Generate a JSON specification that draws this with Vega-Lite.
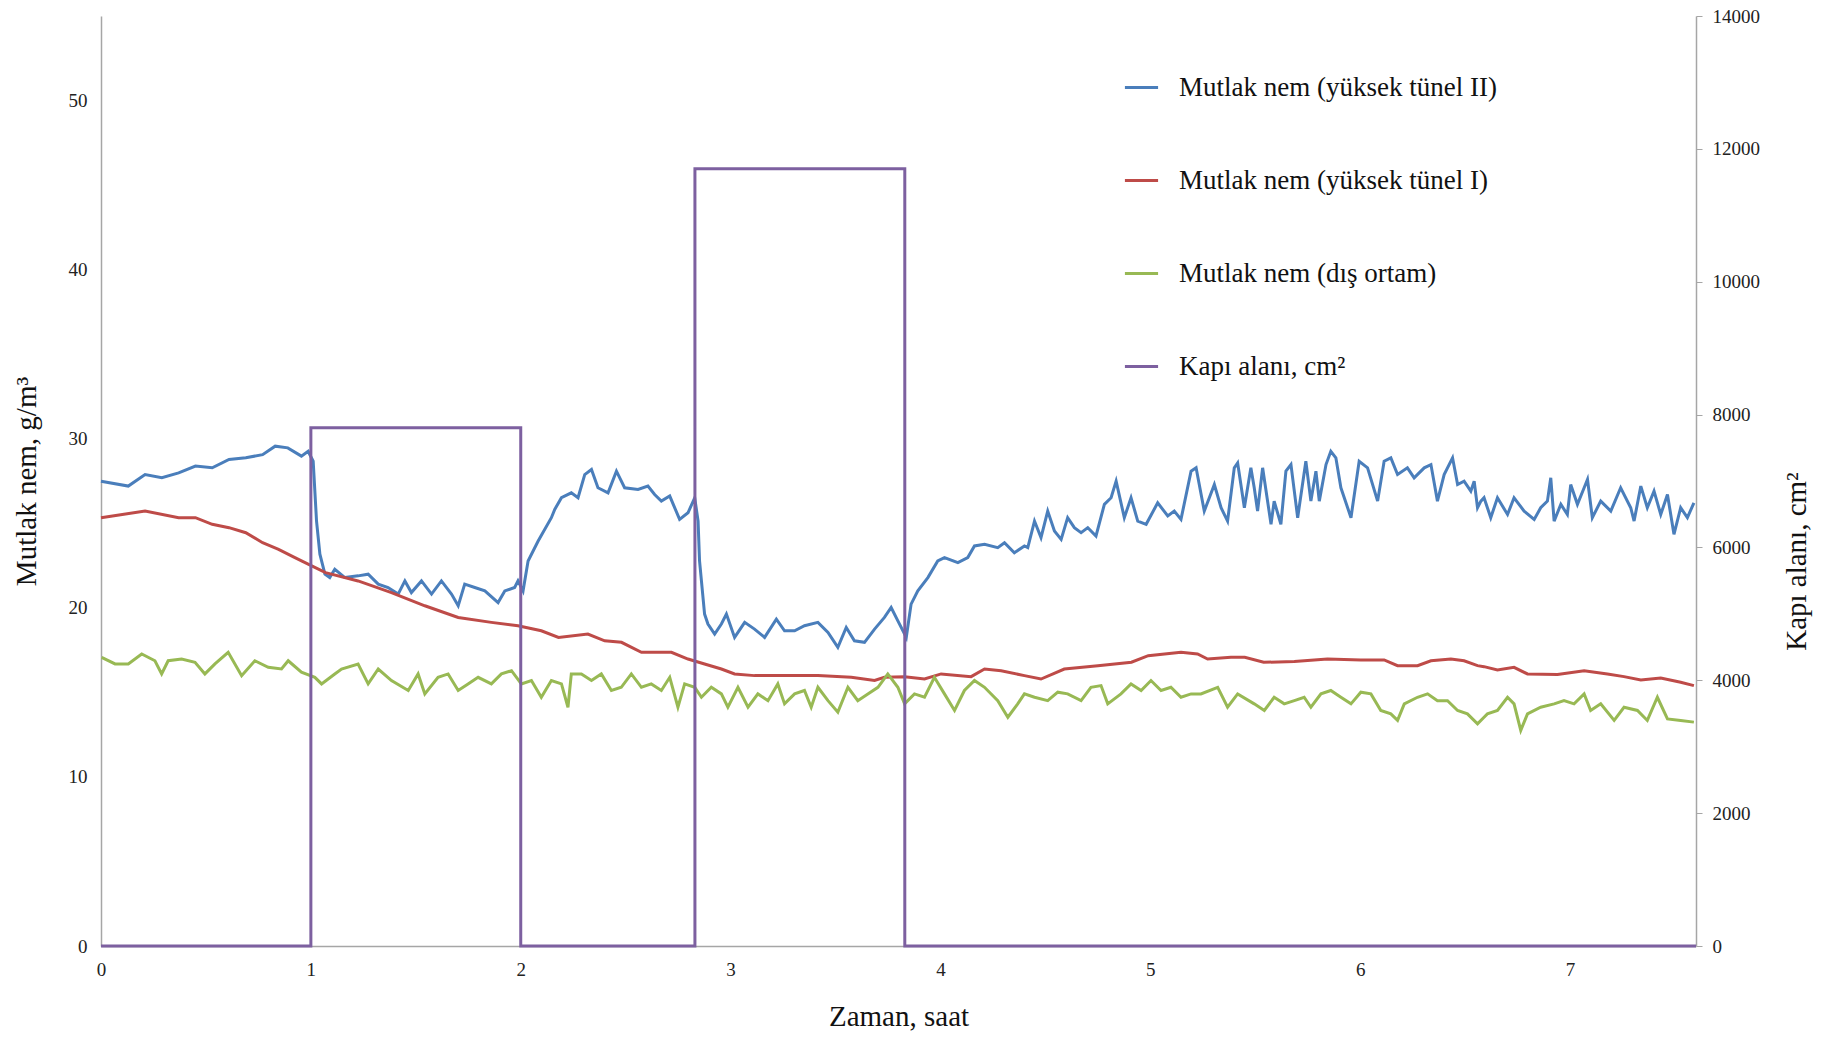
{
  "$schema": "https://vega.github.io/schema/vega-lite/v6.json",
  "width": 1595,
  "height": 930,
  "autosize": {"type": "none"},
  "padding": {"left": 101, "top": 16, "right": 129, "bottom": 92},
  "background": "white",
  "config": {
    "view": {"stroke": null},
    "font": "Liberation Serif",
    "axis": {
      "grid": false,
      "domainColor": "#a6a6a6",
      "domainWidth": 1.5,
      "tickColor": "#a6a6a6",
      "labelFont": "Liberation Serif",
      "labelFontSize": 19,
      "labelColor": "#222222",
      "labelFlush": false,
      "titleFont": "Liberation Serif",
      "titleFontSize": 29,
      "titleFontWeight": "normal",
      "titleColor": "#111111"
    }
  },
  "datasets": {
    "blue": [
      {"t":0.0,"v":27.49},{"t":0.13,"v":27.2},{"t":0.21,"v":27.88},{"t":0.29,"v":27.69},{"t":0.37,"v":27.98},{"t":0.45,"v":28.38},{"t":0.53,"v":28.28},{"t":0.61,"v":28.77},{"t":0.69,"v":28.87},{"t":0.77,"v":29.06},{"t":0.83,"v":29.56},{"t":0.89,"v":29.46},{"t":0.955,"v":28.97},{"t":0.987,"v":29.26},{"t":1.011,"v":28.67},{"t":1.027,"v":25.13},{"t":1.043,"v":23.17},{"t":1.067,"v":21.99},{"t":1.09,"v":21.79},{"t":1.114,"v":22.28},{"t":1.162,"v":21.79},{"t":1.225,"v":21.89},{"t":1.273,"v":21.99},{"t":1.321,"v":21.4},{"t":1.368,"v":21.2},{"t":1.416,"v":20.81},{"t":1.448,"v":21.59},{"t":1.479,"v":20.9},{"t":1.527,"v":21.59},{"t":1.575,"v":20.81},{"t":1.622,"v":21.59},{"t":1.67,"v":20.81},{"t":1.702,"v":20.12},{"t":1.733,"v":21.4},{"t":1.781,"v":21.2},{"t":1.829,"v":21.0},{"t":1.892,"v":20.31},{"t":1.924,"v":21.0},{"t":1.971,"v":21.2},{"t":1.987,"v":21.59},{"t":2.011,"v":21.0},{"t":2.035,"v":22.77},{"t":2.083,"v":23.95},{"t":2.146,"v":25.33},{"t":2.162,"v":25.82},{"t":2.194,"v":26.51},{"t":2.241,"v":26.8},{"t":2.273,"v":26.51},{"t":2.305,"v":27.88},{"t":2.337,"v":28.18},{"t":2.368,"v":27.1},{"t":2.416,"v":26.8},{"t":2.456,"v":28.08},{"t":2.495,"v":27.1},{"t":2.559,"v":27.0},{"t":2.606,"v":27.2},{"t":2.638,"v":26.7},{"t":2.67,"v":26.31},{"t":2.71,"v":26.61},{"t":2.757,"v":25.23},{"t":2.797,"v":25.62},{"t":2.829,"v":26.51},{"t":2.845,"v":25.13},{"t":2.852,"v":22.77},{"t":2.876,"v":19.63},{"t":2.892,"v":19.04},{"t":2.924,"v":18.45},{"t":2.956,"v":19.04},{"t":2.98,"v":19.63},{"t":3.019,"v":18.25},{"t":3.067,"v":19.14},{"t":3.114,"v":18.74},{"t":3.162,"v":18.25},{"t":3.218,"v":19.33},{"t":3.257,"v":18.64},{"t":3.305,"v":18.64},{"t":3.352,"v":18.94},{"t":3.416,"v":19.14},{"t":3.464,"v":18.55},{"t":3.511,"v":17.66},{"t":3.551,"v":18.84},{"t":3.59,"v":18.05},{"t":3.638,"v":17.96},{"t":3.686,"v":18.74},{"t":3.733,"v":19.43},{"t":3.765,"v":20.02},{"t":3.797,"v":19.23},{"t":3.829,"v":18.45},{"t":3.837,"v":18.25},{"t":3.86,"v":20.22},{"t":3.892,"v":21.0},{"t":3.94,"v":21.79},{"t":3.987,"v":22.77},{"t":4.019,"v":22.97},{"t":4.083,"v":22.67},{"t":4.13,"v":22.97},{"t":4.162,"v":23.66},{"t":4.21,"v":23.76},{"t":4.273,"v":23.56},{"t":4.305,"v":23.85},{"t":4.352,"v":23.26},{"t":4.4,"v":23.66},{"t":4.416,"v":23.56},{"t":4.448,"v":25.13},{"t":4.479,"v":24.15},{"t":4.511,"v":25.72},{"t":4.543,"v":24.54},{"t":4.575,"v":24.05},{"t":4.606,"v":25.33},{"t":4.638,"v":24.74},{"t":4.67,"v":24.44},{"t":4.702,"v":24.74},{"t":4.741,"v":24.25},{"t":4.781,"v":26.12},{"t":4.813,"v":26.51},{"t":4.837,"v":27.49},{"t":4.876,"v":25.33},{"t":4.908,"v":26.51},{"t":4.94,"v":25.13},{"t":4.98,"v":24.94},{"t":5.035,"v":26.21},{"t":5.083,"v":25.43},{"t":5.114,"v":25.72},{"t":5.146,"v":25.23},{"t":5.194,"v":28.08},{"t":5.218,"v":28.28},{"t":5.257,"v":25.72},{"t":5.305,"v":27.29},{"t":5.337,"v":25.92},{"t":5.368,"v":25.13},{"t":5.4,"v":28.28},{"t":5.416,"v":28.57},{"t":5.448,"v":25.92},{"t":5.479,"v":28.28},{"t":5.495,"v":27.1},{"t":5.511,"v":25.72},{"t":5.535,"v":28.28},{"t":5.575,"v":24.94},{"t":5.59,"v":26.31},{"t":5.622,"v":24.94},{"t":5.646,"v":28.08},{"t":5.67,"v":28.47},{"t":5.702,"v":25.33},{"t":5.741,"v":28.67},{"t":5.765,"v":26.31},{"t":5.789,"v":28.08},{"t":5.805,"v":26.31},{"t":5.837,"v":28.47},{"t":5.86,"v":29.26},{"t":5.884,"v":28.87},{"t":5.908,"v":27.1},{"t":5.956,"v":25.33},{"t":5.995,"v":28.67},{"t":6.035,"v":28.28},{"t":6.083,"v":26.31},{"t":6.114,"v":28.67},{"t":6.146,"v":28.87},{"t":6.178,"v":27.88},{"t":6.225,"v":28.28},{"t":6.257,"v":27.69},{"t":6.305,"v":28.28},{"t":6.337,"v":28.47},{"t":6.368,"v":26.31},{"t":6.4,"v":27.88},{"t":6.44,"v":28.87},{"t":6.464,"v":27.29},{"t":6.495,"v":27.49},{"t":6.527,"v":26.9},{"t":6.543,"v":27.49},{"t":6.559,"v":25.92},{"t":6.575,"v":26.31},{"t":6.59,"v":26.51},{"t":6.622,"v":25.33},{"t":6.654,"v":26.51},{"t":6.702,"v":25.52},{"t":6.733,"v":26.51},{"t":6.781,"v":25.72},{"t":6.829,"v":25.23},{"t":6.86,"v":25.92},{"t":6.892,"v":26.31},{"t":6.908,"v":27.69},{"t":6.924,"v":25.13},{"t":6.956,"v":26.12},{"t":6.987,"v":25.52},{"t":7.003,"v":27.29},{"t":7.035,"v":26.12},{"t":7.067,"v":27.1},{"t":7.083,"v":27.59},{"t":7.106,"v":25.33},{"t":7.146,"v":26.31},{"t":7.194,"v":25.72},{"t":7.241,"v":27.1},{"t":7.289,"v":25.92},{"t":7.305,"v":25.13},{"t":7.337,"v":27.2},{"t":7.368,"v":25.92},{"t":7.4,"v":26.9},{"t":7.432,"v":25.52},{"t":7.464,"v":26.7},{"t":7.495,"v":24.35},{"t":7.527,"v":25.92},{"t":7.559,"v":25.33},{"t":7.59,"v":26.21}
    ],
    "red": [
      {"t":0.0,"v":25.33},{"t":0.21,"v":25.72},{"t":0.37,"v":25.33},{"t":0.45,"v":25.33},{"t":0.53,"v":24.94},{"t":0.61,"v":24.74},{"t":0.69,"v":24.44},{"t":0.77,"v":23.85},{"t":0.846,"v":23.46},{"t":0.924,"v":22.97},{"t":0.987,"v":22.58},{"t":1.07,"v":22.08},{"t":1.225,"v":21.59},{"t":1.384,"v":20.9},{"t":1.543,"v":20.12},{"t":1.702,"v":19.43},{"t":1.86,"v":19.14},{"t":1.987,"v":18.94},{"t":2.098,"v":18.64},{"t":2.18,"v":18.25},{"t":2.32,"v":18.45},{"t":2.4,"v":18.05},{"t":2.48,"v":17.96},{"t":2.575,"v":17.37},{"t":2.718,"v":17.37},{"t":2.797,"v":16.97},{"t":2.876,"v":16.68},{"t":2.956,"v":16.38},{"t":3.019,"v":16.09},{"t":3.114,"v":15.99},{"t":3.305,"v":15.99},{"t":3.416,"v":15.99},{"t":3.575,"v":15.89},{"t":3.686,"v":15.7},{"t":3.733,"v":15.89},{"t":3.829,"v":15.93},{"t":3.924,"v":15.79},{"t":4.003,"v":16.09},{"t":4.146,"v":15.93},{"t":4.21,"v":16.38},{"t":4.289,"v":16.28},{"t":4.4,"v":15.99},{"t":4.479,"v":15.79},{"t":4.59,"v":16.38},{"t":4.75,"v":16.58},{"t":4.91,"v":16.78},{"t":4.99,"v":17.17},{"t":5.146,"v":17.37},{"t":5.225,"v":17.27},{"t":5.273,"v":16.97},{"t":5.384,"v":17.07},{"t":5.45,"v":17.07},{"t":5.54,"v":16.78},{"t":5.686,"v":16.82},{"t":5.844,"v":16.97},{"t":6.003,"v":16.92},{"t":6.114,"v":16.92},{"t":6.178,"v":16.58},{"t":6.273,"v":16.58},{"t":6.337,"v":16.87},{"t":6.432,"v":16.97},{"t":6.495,"v":16.87},{"t":6.559,"v":16.58},{"t":6.59,"v":16.52},{"t":6.654,"v":16.32},{"t":6.733,"v":16.48},{"t":6.797,"v":16.09},{"t":6.94,"v":16.05},{"t":7.067,"v":16.28},{"t":7.178,"v":16.09},{"t":7.257,"v":15.93},{"t":7.337,"v":15.73},{"t":7.432,"v":15.85},{"t":7.527,"v":15.6},{"t":7.59,"v":15.4}
    ],
    "green": [
      {"t":0.003,"v":17.07},{"t":0.067,"v":16.68},{"t":0.13,"v":16.68},{"t":0.194,"v":17.27},{"t":0.257,"v":16.87},{"t":0.289,"v":16.09},{"t":0.32,"v":16.87},{"t":0.384,"v":16.97},{"t":0.448,"v":16.78},{"t":0.495,"v":16.09},{"t":0.543,"v":16.68},{"t":0.606,"v":17.37},{"t":0.67,"v":15.99},{"t":0.733,"v":16.87},{"t":0.797,"v":16.48},{"t":0.86,"v":16.38},{"t":0.892,"v":16.87},{"t":0.955,"v":16.19},{"t":1.019,"v":15.89},{"t":1.051,"v":15.5},{"t":1.114,"v":16.09},{"t":1.146,"v":16.38},{"t":1.225,"v":16.68},{"t":1.273,"v":15.5},{"t":1.321,"v":16.38},{"t":1.384,"v":15.7},{"t":1.464,"v":15.11},{"t":1.511,"v":16.09},{"t":1.543,"v":14.91},{"t":1.606,"v":15.89},{"t":1.654,"v":16.09},{"t":1.702,"v":15.11},{"t":1.749,"v":15.5},{"t":1.797,"v":15.89},{"t":1.86,"v":15.5},{"t":1.908,"v":16.09},{"t":1.956,"v":16.28},{"t":2.003,"v":15.5},{"t":2.051,"v":15.7},{"t":2.098,"v":14.71},{"t":2.146,"v":15.7},{"t":2.194,"v":15.5},{"t":2.225,"v":14.12},{"t":2.241,"v":16.09},{"t":2.289,"v":16.09},{"t":2.337,"v":15.7},{"t":2.384,"v":16.09},{"t":2.432,"v":15.11},{"t":2.479,"v":15.3},{"t":2.527,"v":16.09},{"t":2.575,"v":15.3},{"t":2.622,"v":15.5},{"t":2.67,"v":15.11},{"t":2.71,"v":15.89},{"t":2.749,"v":14.12},{"t":2.781,"v":15.5},{"t":2.829,"v":15.3},{"t":2.861,"v":14.71},{"t":2.908,"v":15.3},{"t":2.956,"v":14.91},{"t":2.987,"v":14.12},{"t":3.035,"v":15.3},{"t":3.083,"v":14.12},{"t":3.13,"v":14.91},{"t":3.178,"v":14.51},{"t":3.225,"v":15.5},{"t":3.257,"v":14.32},{"t":3.305,"v":14.91},{"t":3.352,"v":15.11},{"t":3.384,"v":14.12},{"t":3.416,"v":15.3},{"t":3.464,"v":14.51},{"t":3.511,"v":13.83},{"t":3.559,"v":15.3},{"t":3.606,"v":14.51},{"t":3.654,"v":14.91},{"t":3.702,"v":15.3},{"t":3.749,"v":16.09},{"t":3.797,"v":15.3},{"t":3.829,"v":14.32},{"t":3.876,"v":14.91},{"t":3.924,"v":14.71},{"t":3.971,"v":15.89},{"t":4.019,"v":14.91},{"t":4.067,"v":13.93},{"t":4.114,"v":15.11},{"t":4.162,"v":15.7},{"t":4.21,"v":15.3},{"t":4.273,"v":14.51},{"t":4.321,"v":13.53},{"t":4.368,"v":14.32},{"t":4.4,"v":14.91},{"t":4.448,"v":14.71},{"t":4.511,"v":14.51},{"t":4.559,"v":15.01},{"t":4.606,"v":14.91},{"t":4.67,"v":14.51},{"t":4.717,"v":15.3},{"t":4.765,"v":15.4},{"t":4.797,"v":14.32},{"t":4.86,"v":14.91},{"t":4.908,"v":15.5},{"t":4.956,"v":15.11},{"t":5.003,"v":15.7},{"t":5.051,"v":15.11},{"t":5.098,"v":15.3},{"t":5.146,"v":14.71},{"t":5.194,"v":14.91},{"t":5.241,"v":14.91},{"t":5.321,"v":15.3},{"t":5.368,"v":14.12},{"t":5.416,"v":14.91},{"t":5.495,"v":14.32},{"t":5.543,"v":13.93},{"t":5.59,"v":14.71},{"t":5.638,"v":14.32},{"t":5.686,"v":14.51},{"t":5.733,"v":14.71},{"t":5.765,"v":14.12},{"t":5.813,"v":14.91},{"t":5.86,"v":15.11},{"t":5.908,"v":14.71},{"t":5.956,"v":14.32},{"t":6.003,"v":15.01},{"t":6.051,"v":14.91},{"t":6.098,"v":13.93},{"t":6.146,"v":13.73},{"t":6.178,"v":13.34},{"t":6.21,"v":14.32},{"t":6.273,"v":14.71},{"t":6.321,"v":14.91},{"t":6.368,"v":14.51},{"t":6.416,"v":14.51},{"t":6.464,"v":13.93},{"t":6.511,"v":13.73},{"t":6.559,"v":13.14},{"t":6.59,"v":13.53},{"t":6.606,"v":13.73},{"t":6.654,"v":13.93},{"t":6.702,"v":14.71},{"t":6.733,"v":14.32},{"t":6.765,"v":12.75},{"t":6.797,"v":13.73},{"t":6.86,"v":14.12},{"t":6.924,"v":14.32},{"t":6.971,"v":14.51},{"t":7.019,"v":14.32},{"t":7.067,"v":14.91},{"t":7.098,"v":13.93},{"t":7.146,"v":14.32},{"t":7.21,"v":13.34},{"t":7.257,"v":14.12},{"t":7.321,"v":13.93},{"t":7.368,"v":13.34},{"t":7.416,"v":14.71},{"t":7.464,"v":13.43},{"t":7.527,"v":13.34},{"t":7.59,"v":13.24}
    ],
    "door": [
      {"t":0,"alan":0,"i":1},{"t":1,"alan":0,"i":2},{"t":1,"alan":7800,"i":3},{"t":2,"alan":7800,"i":4},{"t":2,"alan":0,"i":5},{"t":2.83,"alan":0,"i":6},{"t":2.83,"alan":11700,"i":7},{"t":3.83,"alan":11700,"i":8},{"t":3.83,"alan":0,"i":9},{"t":7.6,"alan":0,"i":10}
    ]
  },
  "encoding": {
    "x": {
      "field": "t",
      "type": "quantitative",
      "scale": {"domain": [0, 7.6], "nice": false, "zero": true},
      "axis": {"title": "Zaman, saat", "values": [0,1,2,3,4,5,6,7], "ticks": false, "labelPadding": 14, "titleY": 70, "titleBaseline": "middle"}
    }
  },
  "layer": [
    {
      "encoding": {
        "y": {
          "field": "v",
          "type": "quantitative",
          "scale": {"domain": [0, 55], "nice": false},
          "axis": {"title": "Mutlak nem, g/m³", "values": [0,10,20,30,40,50], "ticks": false, "labelPadding": 14, "titleAngle": -90, "titleX": -75, "titleY": 465, "titleBaseline": "middle", "titleAlign": "center"}
        }
      },
      "layer": [
        {
          "data": {"name": "blue"},
          "mark": {"type": "line", "strokeWidth": 3},
          "encoding": {
            "color": {
              "datum": "Mutlak nem (yüksek tünel II)",
              "type": "nominal",
              "scale": {
                "domain": ["Mutlak nem (yüksek tünel II)", "Mutlak nem (yüksek tünel I)", "Mutlak nem (dış ortam)", "Kapı alanı, cm²"],
                "range": ["#4a7ebb", "#be4b48", "#98b954", "#7d60a0"]
              },
              "legend": {
                "title": null,
                "orient": "none",
                "legendX": 1022,
                "legendY": 53,
                "symbolType": "stroke",
                "symbolSize": 1100,
                "symbolStrokeWidth": 3,
                "labelFont": "Liberation Serif",
                "labelFontSize": 27,
                "labelColor": "#111111",
                "labelLimit": 700,
                "labelOffset": 19,
                "rowPadding": 61
              }
            }
          }
        },
        {
          "data": {"name": "red"},
          "mark": {"type": "line", "strokeWidth": 3},
          "encoding": {"color": {"datum": "Mutlak nem (yüksek tünel I)", "type": "nominal"}}
        },
        {
          "data": {"name": "green"},
          "mark": {"type": "line", "strokeWidth": 3},
          "encoding": {"color": {"datum": "Mutlak nem (dış ortam)", "type": "nominal"}}
        }
      ]
    },
    {
      "data": {"name": "door"},
      "mark": {"type": "line", "strokeWidth": 3},
      "encoding": {
        "y": {
          "field": "alan",
          "type": "quantitative",
          "scale": {"domain": [0, 14000], "nice": false},
          "axis": {"orient": "right", "title": "Kapı alanı, cm²", "format": "d", "values": [0,2000,4000,6000,8000,10000,12000,14000], "ticks": true, "tickSize": 6, "labelPadding": 10, "titleAngle": -90, "titleX": 100, "titleY": 545, "titleBaseline": "middle", "titleAlign": "center"}
        },
        "order": {"field": "i", "type": "quantitative"},
        "color": {"datum": "Kapı alanı, cm²", "type": "nominal"}
      }
    }
  ],
  "resolve": {"scale": {"y": "independent"}}
}
